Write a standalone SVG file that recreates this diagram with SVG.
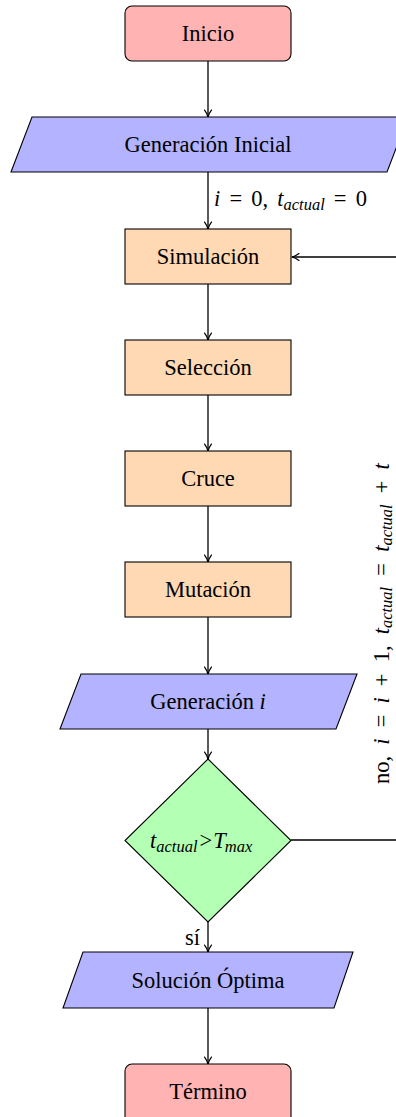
<svg xmlns="http://www.w3.org/2000/svg" width="396" height="1117" viewBox="0 0 396 1117">
  <defs>
    <style>
      .node { stroke: #000; stroke-width: 1.1; }
      .term { fill: #FFB3B3; }
      .io { fill: #B3B3FF; }
      .proc { fill: #FFD9B3; }
      .dec { fill: #B3FFB3; }
      .lbl { font-family: "Liberation Serif", "Times New Roman", serif; font-size: 22.5px; fill: #000; }
      .mi { font-style: italic; }
      .sub { font-style: italic; font-size: 16.5px; }
      .edge { fill: none; stroke: #000; stroke-width: 1.3; }
    </style>
    <marker id="arr" viewBox="0 0 10 10" refX="9.2" refY="5" markerWidth="9" markerHeight="9" markerUnits="userSpaceOnUse" orient="auto">
      <path d="M1.5,1.2 Q5,4 9.5,5 Q5,6 1.5,8.8" fill="none" stroke="#000" stroke-width="1.4" stroke-linecap="round"/>
    </marker>
  </defs>

  <!-- connectors -->
  <g id="edges">
    <line class="edge" x1="208" y1="61" x2="208" y2="117" marker-end="url(#arr)"/>
    <line class="edge" x1="208" y1="172" x2="208" y2="229" marker-end="url(#arr)"/>
    <line class="edge" x1="208" y1="284" x2="208" y2="340" marker-end="url(#arr)"/>
    <line class="edge" x1="208" y1="395" x2="208" y2="451" marker-end="url(#arr)"/>
    <line class="edge" x1="208" y1="506" x2="208" y2="562" marker-end="url(#arr)"/>
    <line class="edge" x1="208" y1="617" x2="208" y2="674" marker-end="url(#arr)"/>
    <line class="edge" x1="208" y1="729" x2="208" y2="759" marker-end="url(#arr)"/>
    <line class="edge" x1="208" y1="922" x2="208" y2="952" marker-end="url(#arr)"/>
    <line class="edge" x1="208" y1="1008" x2="208" y2="1064" marker-end="url(#arr)"/>
    <path class="edge" d="M291,840 H402 V257 H292" marker-end="url(#arr)"/>
    <text class="lbl" x="214" y="206" word-spacing="3.5"><tspan class="mi">i</tspan> = 0, <tspan class="mi">t</tspan><tspan class="sub" dy="4">actual</tspan><tspan dy="-4"> = 0</tspan></text>
    <text class="lbl" transform="translate(389,784) rotate(-90)" word-spacing="5.5">no, <tspan class="mi">i</tspan> = <tspan class="mi">i</tspan> + 1, <tspan class="mi">t</tspan><tspan class="sub" dy="3">actual</tspan><tspan dy="-3"> = </tspan><tspan class="mi">t</tspan><tspan class="sub" dy="3">actual</tspan><tspan dy="-3"> + </tspan><tspan class="mi">t</tspan></text>
    <text class="lbl" x="185" y="945">sí</text>
  </g>

  <g id="inicio">
    <rect class="node term" x="125" y="6" width="166" height="55" rx="7"/>
    <text class="lbl" x="208" y="41" text-anchor="middle">Inicio</text>
  </g>

  <g id="generacion-inicial">
    <polygon class="node io" points="32,117 408,117 387,172 11,172"/>
    <text class="lbl" x="208" y="152" text-anchor="middle">Generación Inicial</text>
  </g>

  <g id="simulacion">
    <rect class="node proc" x="125" y="229" width="166" height="55"/>
    <text class="lbl" x="208" y="264" text-anchor="middle">Simulación</text>
  </g>

  <g id="seleccion">
    <rect class="node proc" x="125" y="340" width="166" height="55"/>
    <text class="lbl" x="208" y="375" text-anchor="middle">Selección</text>
  </g>

  <g id="cruce">
    <rect class="node proc" x="125" y="451" width="166" height="55"/>
    <text class="lbl" x="208" y="486" text-anchor="middle">Cruce</text>
  </g>

  <g id="mutacion">
    <rect class="node proc" x="125" y="562" width="166" height="55"/>
    <text class="lbl" x="208" y="597" text-anchor="middle">Mutación</text>
  </g>

  <g id="generacion-i">
    <polygon class="node io" points="81,674 357,674 336,729 60,729"/>
    <text class="lbl" x="208" y="709" text-anchor="middle">Generación <tspan class="mi">i</tspan></text>
  </g>

  <g id="condicion">
    <polygon class="node dec" points="208,759 291,840.5 208,922 125,840.5"/>
    <text class="lbl" x="150" y="848"><tspan class="mi">t</tspan><tspan class="sub" dy="4">actual</tspan><tspan dy="-4" dx="2">&gt;</tspan><tspan class="mi" dx="1">T</tspan><tspan class="sub" dy="4" dx="-1">max</tspan></text>
  </g>

  <g id="solucion">
    <polygon class="node io" points="83,952 353,952 334,1008 63,1008"/>
    <text class="lbl" x="208" y="988" text-anchor="middle">Solución Óptima</text>
  </g>

  <g id="termino">
    <rect class="node term" x="125" y="1064" width="166" height="60" rx="7"/>
    <text class="lbl" x="208" y="1099" text-anchor="middle">Término</text>
  </g>
</svg>
